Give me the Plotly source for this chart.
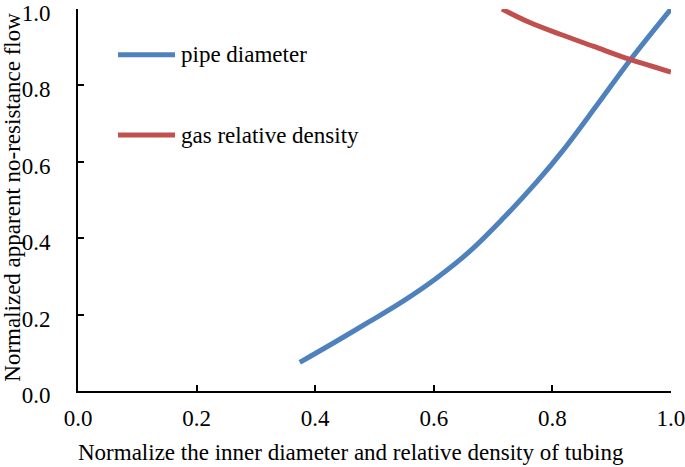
import plotly.graph_objects as go

# Data
pipe_x = [0.374, 0.43, 0.492, 0.549, 0.605, 0.661, 0.717, 0.774, 0.818, 0.875, 0.931, 1.00]
pipe_y = [0.075, 0.125, 0.182, 0.236, 0.296, 0.366, 0.452, 0.548, 0.630, 0.748, 0.866, 1.000]

gas_x = [0.715, 0.76, 0.813, 0.87, 0.931, 1.00]
gas_y = [1.000, 0.966, 0.934, 0.902, 0.868, 0.835]

series_names = ["pipe diameter", "gas relative density"]
series_colors = ["#4f81bd", "#c0504d"]
tick_vals = [0.0, 0.2, 0.4, 0.6, 0.8, 1.0]
tick_text = ["0.0", "0.2", "0.4", "0.6", "0.8", "1.0"]
x_title = "Normalize the inner diameter and relative density of tubing"
y_title = "Normalized apparent no-resistance flow"

FONT = "Liberation Serif"
FS = 23

fig = go.Figure()
fig.add_trace(go.Scatter(x=pipe_x, y=pipe_y, mode="lines", name=series_names[0],
                         line=dict(color=series_colors[0], width=5, shape="spline", smoothing=1.0),
                         showlegend=False, cliponaxis=False, hoverinfo="skip"))
fig.add_trace(go.Scatter(x=gas_x, y=gas_y, mode="lines", name=series_names[1],
                         line=dict(color=series_colors[1], width=5, shape="spline", smoothing=1.0),
                         showlegend=False, cliponaxis=False, hoverinfo="skip"))

# Legend drawn manually (samples + labels) to match the reference layout
leg_y = [0.880, 0.670]
for name, color, ly in zip(series_names, series_colors, leg_y):
    fig.add_shape(type="line", xref="paper", yref="paper",
                  x0=0.0675, x1=0.1636, y0=ly, y1=ly,
                  line=dict(color=color, width=5))
    fig.add_annotation(xref="paper", yref="paper", x=0.170, y=ly, text=name,
                       showarrow=False, xanchor="left", yanchor="middle",
                       font=dict(family=FONT, size=FS, color="black"))

# Axis titles as annotations (precise placement)
fig.add_annotation(xref="paper", yref="paper", x=0.46, y=-0.16, text=x_title,
                   showarrow=False, xanchor="center", yanchor="middle",
                   font=dict(family=FONT, size=FS, color="black"))
fig.add_annotation(xref="paper", yref="paper", x=-0.111, y=0.5065, text=y_title,
                   showarrow=False, xanchor="center", yanchor="middle", textangle=-90,
                   font=dict(family=FONT, size=FS, color="black"))

axis_common = dict(
    range=[-0.0001, 1.0001], tickvals=tick_vals, ticktext=tick_text,
    showgrid=False, zeroline=False, showline=True, linecolor="black", linewidth=2,
    ticks="inside", ticklen=6, tickwidth=2, tickcolor="black",
    tickfont=dict(family=FONT, size=FS, color="black"),
    ticklabeloverflow="allow", automargin=False,
)

fig.update_layout(
    template="none",
    width=685, height=467,
    margin=dict(l=78, r=14, t=9, b=76),
    paper_bgcolor="white", plot_bgcolor="white",
    font=dict(family=FONT, size=FS, color="black"),
    hovermode=False,
    xaxis=dict(**axis_common, ticklabelstandoff=5),
    yaxis=dict(**axis_common, ticklabelstandoff=21, ticklabelshift=4),
)

fig.write_html("out.html",
               config={"displayModeBar": False, "staticPlot": True},
               post_script="document.body.style.margin='0';document.body.style.overflow='hidden';")
